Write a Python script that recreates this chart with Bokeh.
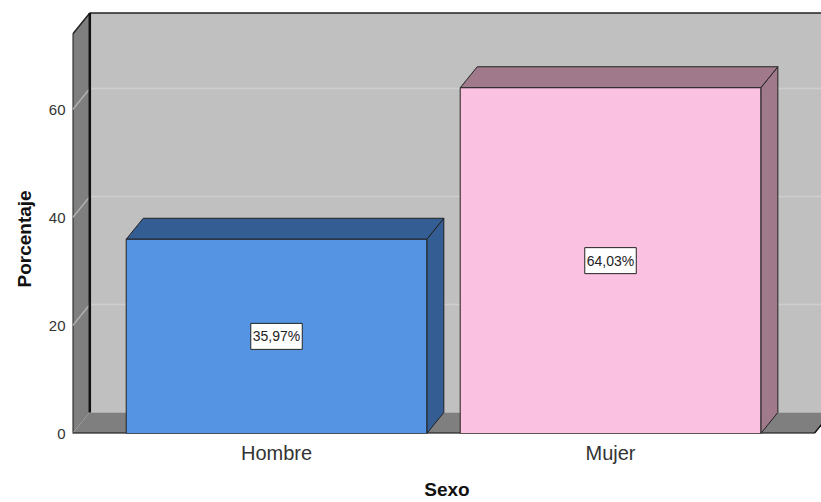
from bokeh.plotting import figure
from bokeh.models import Range1d, FixedTicker, Label, Title
from bokeh.embed import file_html
from bokeh.resources import INLINE

# Data
categories = ["Hombre", "Mujer"]
percentages = [35.97, 64.03]
value_labels = ["35,97%", "64,03%"]
y_ticks = [0, 20, 40, 60]

# Styling
front_colors = ["#5594e3", "#fac1e0"]
shade_colors = ["#345d94", "#a07a8b"]
FONT = "Liberation Sans"

# Depth offset of the pseudo-3D box, in data units
DX = 0.051
DY = 3.89
X0, X1 = -0.11, 2.11   # floor / front plane extent
YMAX = 74.0            # wall height at the front plane
BAR_W = 0.9

centers = [i + 0.5 for i in range(len(categories))]

p = figure(width=821, height=502, output_backend="svg", toolbar_location=None,
           x_range=Range1d(-0.1108, 2.1317), y_range=Range1d(0, 80.19),
           min_border_left=72, min_border_right=0, min_border_top=0,
           min_border_bottom=69, background_fill_color="white",
           border_fill_color="white", outline_line_color=None)
p.xgrid.visible = False
p.ygrid.visible = False

# Back wall
p.quad(left=X0 + DX, right=X1 + DX + 0.2, bottom=DY, top=YMAX + DY,
       fill_color="#c0c0c0", line_color=None)
# Back wall grid lines
p.segment(x0=[X0 + DX] * 3, y0=[t + DY for t in y_ticks[1:]],
          x1=[X1 + DX + 0.2] * 3, y1=[t + DY for t in y_ticks[1:]],
          line_color="#cecece", line_width=1.5)
p.segment(x0=[X0 + DX], y0=[YMAX + DY], x1=[X1 + DX + 0.2], y1=[YMAX + DY],
          line_color="#222222", line_width=1.5)

# Left side wall
p.patch(x=[X0, X0 + DX, X0 + DX, X0], y=[0, DY, YMAX + DY, YMAX],
        fill_color="#7f7f7f", line_color="#222222", line_width=1.5)
p.segment(x0=[X0] * 4, y0=y_ticks, x1=[X0 + DX] * 4, y1=[t + DY for t in y_ticks],
          line_color="#b0b0b0", line_width=1.5)
p.segment(x0=[X0 + DX], y0=[DY], x1=[X0 + DX], y1=[YMAX + DY],
          line_color="#111111", line_width=2.5)

# Floor
p.patch(x=[X0, X1, X1 + DX, X0 + DX], y=[0, 0, DY, DY],
        fill_color="#7f7f7f", line_color=None)
p.segment(x0=[X0], y0=[0], x1=[X1], y1=[0], line_color="#111111", line_width=2)
p.segment(x0=[X1], y0=[0], x1=[X1 + DX], y1=[DY], line_color="#111111", line_width=1.5)

# Bars: front faces, top faces and right side faces
lefts = [c - BAR_W / 2 for c in centers]
rights = [c + BAR_W / 2 for c in centers]
top_xs = [[l, r, r + DX, l + DX] for l, r in zip(lefts, rights)]
top_ys = [[v, v, v + DY, v + DY] for v in percentages]
side_xs = [[r, r + DX, r + DX, r] for r in rights]
side_ys = [[0, DY, v + DY, v] for v in percentages]
p.patches(xs=side_xs, ys=side_ys, fill_color=shade_colors,
          line_color="#222222", line_width=1)
p.patches(xs=top_xs, ys=top_ys, fill_color=shade_colors,
          line_color="#222222", line_width=1)
p.quad(left=lefts, right=rights, bottom=0, top=percentages,
       fill_color=front_colors, line_color="#222222", line_width=1)

# Value labels
for c, v, t in zip(centers, percentages, value_labels):
    p.add_layout(Label(x=c, y=v / 2, text=t, text_align="center",
                       text_baseline="middle", text_font=FONT,
                       text_font_size="14px", text_color="#222222",
                       background_fill_color="white",
                       border_line_color="#222222", border_line_width=1,
                       padding=dict(left=2, right=2, top=5, bottom=5)))

# Axes
p.yaxis.ticker = FixedTicker(ticks=y_ticks)
p.yaxis.axis_line_color = None
p.yaxis.major_tick_line_color = None
p.yaxis.minor_tick_line_color = None
p.yaxis.major_tick_out = 0
p.yaxis.major_label_standoff = 7
p.yaxis.major_label_text_font = FONT
p.yaxis.major_label_text_font_size = "15px"
p.yaxis.major_label_text_color = "#333333"

p.xaxis.ticker = FixedTicker(ticks=centers)
p.xaxis.major_label_overrides = {c: n for c, n in zip(centers, categories)}
p.xaxis.axis_line_color = None
p.xaxis.major_tick_line_color = None
p.xaxis.minor_tick_line_color = None
p.xaxis.major_tick_out = 0
p.xaxis.major_label_standoff = 8
p.xaxis.major_label_text_font = FONT
p.xaxis.major_label_text_font_size = "20px"
p.xaxis.major_label_text_color = "#333333"
p.xaxis.axis_label = "Sexo"
p.xaxis.axis_label_standoff = 12
p.xaxis.axis_label_text_font = FONT
p.xaxis.axis_label_text_font_style = "bold"
p.xaxis.axis_label_text_font_size = "19px"
p.xaxis.axis_label_text_color = "#111111"

# Vertical axis title, placed in the left panel
p.add_layout(Title(text="Porcentaje", align="left", offset=146,
                   text_font=FONT, text_font_style="bold",
                   text_font_size="19px", text_color="#111111",
                   standoff=22), "left")

open("out.html", "w").write(file_html(p, INLINE))
